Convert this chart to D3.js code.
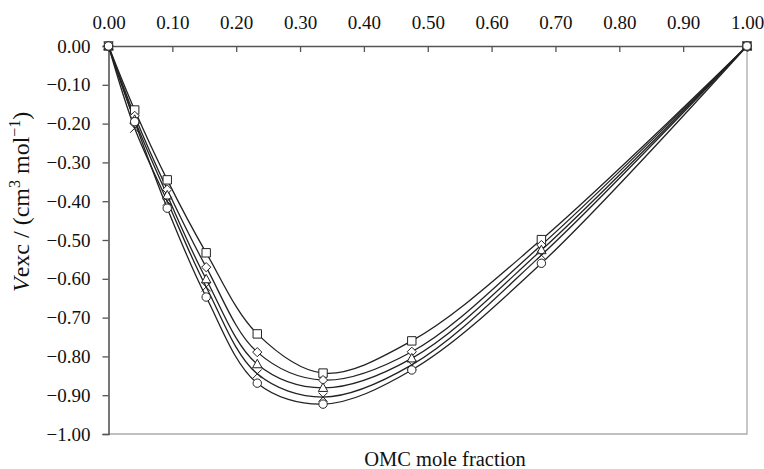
<!DOCTYPE html>
<html>
  <head>
    <meta charset="utf-8" />
    <script src="https://d3js.org/d3.v7.min.js"></script>
    <style>
      body { margin: 0; background: #fff; }
      text { font-family: "Liberation Serif", "Times New Roman", serif; fill: #111; }
      .axis path, .axis line { stroke: #555; }
      .series { fill: none; stroke: #222; stroke-width: 1.3px; }
      .marker { fill: #fff; stroke: #222; stroke-width: 1px; }
    </style>
  </head>
  <body>
    <svg id="chart" width="764" height="469"></svg>
  <script>

  // mole fractions of OMC where values were measured
  var moleFrac = [0, 0.041, 0.092, 0.153, 0.233, 0.336, 0.475, 0.678, 1.0];

  // excess volume, one series per temperature (top to bottom)
  var seriesSquare   = [0, -0.165, -0.345, -0.533, -0.742, -0.843, -0.760, -0.499, 0];
  var seriesDiamond  = [0, -0.180, -0.370, -0.570, -0.789, -0.861, -0.788, -0.513, 0];
  var seriesTriangle = [0, -0.190, -0.385, -0.601, -0.820, -0.881, -0.805, -0.526, 0];
  var seriesCross    = [0, -0.212, -0.400, -0.621, -0.845, -0.905, -0.822, -0.539, 0];
  var seriesCircle   = [0, -0.195, -0.418, -0.647, -0.869, -0.923, -0.835, -0.560, 0];

  var xTicks = [0, 0.1, 0.2, 0.3, 0.4, 0.5, 0.6, 0.7, 0.8, 0.9, 1.0];
  var yTicks = [0, -0.1, -0.2, -0.3, -0.4, -0.5, -0.6, -0.7, -0.8, -0.9, -1.0];

  var series = [
    { values: seriesSquare, shape: "square" },
    { values: seriesDiamond, shape: "diamond" },
    { values: seriesTriangle, shape: "triangle" },
    { values: seriesCross, shape: "cross" },
    { values: seriesCircle, shape: "circle" }
  ];

  var svg = d3.select("#chart");
  var plotLeft = 108.5, plotRight = 747, plotTop = 46, plotBottom = 434;

  var x = d3.scaleLinear().domain([0, 1]).range([plotLeft, plotRight]);
  var y = d3.scaleLinear().domain([0, -1]).range([plotTop, plotBottom]);

  // light frame on the right and bottom
  svg.append("path")
    .attr("d", "M" + plotLeft + "," + plotBottom + "H" + plotRight + "V" + plotTop)
    .attr("fill", "none")
    .attr("stroke", "#aaa")
    .attr("stroke-width", 1.3);

  var fmt = d3.format(".2f");

  svg.append("g")
    .attr("class", "axis")
    .attr("transform", "translate(0," + plotTop + ")")
    .call(d3.axisTop(x).tickValues(xTicks).tickSize(-6).tickPadding(17).tickFormat(fmt));

  svg.append("g")
    .attr("class", "axis")
    .attr("transform", "translate(" + plotLeft + ",0)")
    .call(d3.axisLeft(y).tickValues(yTicks).tickSize(6).tickPadding(12).tickFormat(fmt));

  svg.selectAll(".axis path").attr("stroke-width", 1.6);
  svg.selectAll(".axis line").attr("stroke-width", 1.3);
  svg.selectAll(".axis text")
    .attr("font-family", "Liberation Serif")
    .attr("font-size", 19)
    .attr("fill", "#111");

  var line = d3.line()
    .x(function(d, i) { return x(moleFrac[i]); })
    .y(function(d) { return y(d); })
    .curve(d3.curveCatmullRom.alpha(0.5));

  svg.selectAll(".series")
    .data(series)
    .enter().append("path")
    .attr("class", "series")
    .attr("d", function(s) { return line(s.values); });

  function markerPath(shape) {
    var r = 4.2;
    if (shape === "square") return "M-4.2,-4.2H4.2V4.2H-4.2Z";
    if (shape === "diamond") return "M0,-4.6L4.6,0L0,4.6L-4.6,0Z";
    if (shape === "triangle") return "M0,-4.9L4.7,3.6H-4.7Z";
    if (shape === "cross") return "M-4.5,-4.5L4.5,4.5M-4.5,4.5L4.5,-4.5";
    return "M" + r + ",0A" + r + "," + r + " 0 1,1 " + (-r) + ",0A" + r + "," + r + " 0 1,1 " + r + ",0Z";
  }

  series.forEach(function(s) {
    svg.append("g").selectAll("path")
      .data(s.values)
      .enter().append("path")
      .attr("class", "marker")
      .attr("transform", function(d, i) { return "translate(" + x(moleFrac[i]) + "," + y(d) + ")"; })
      .attr("d", markerPath(s.shape));
  });

  // axis titles
  svg.append("text")
    .attr("x", 445)
    .attr("y", 466)
    .attr("text-anchor", "middle")
    .attr("font-size", 20.5)
    .text("OMC mole fraction");

  var ytitle = svg.append("text")
    .attr("transform", "translate(29,292) rotate(-90)")
    .attr("text-anchor", "start")
    .attr("font-size", 24);
  ytitle.append("tspan").attr("font-style", "italic").text("V");
  ytitle.append("tspan").text("exc / (cm");
  ytitle.append("tspan").attr("dy", -9).attr("font-size", 16).text("3");
  ytitle.append("tspan").attr("dy", 9).text(" mol");
  ytitle.append("tspan").attr("dy", -9).attr("font-size", 16).text("\u22121");
  ytitle.append("tspan").attr("dy", 9).text(")");

  </script>
  </body>
</html>
